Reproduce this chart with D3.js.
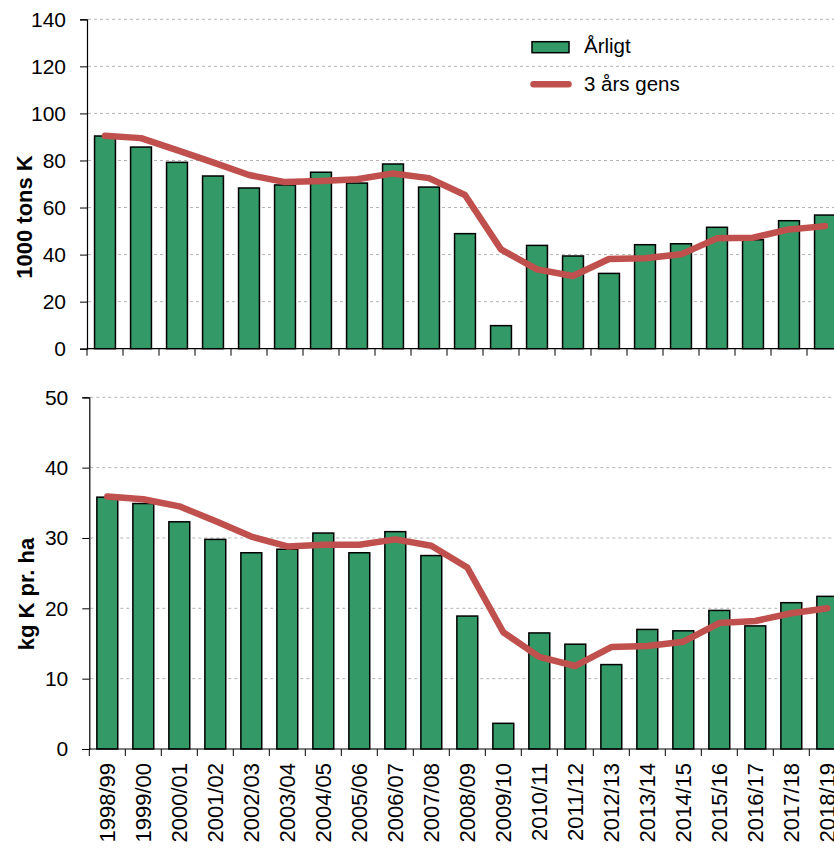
<!DOCTYPE html>
<html>
<head>
<meta charset="utf-8">
<script src="https://cdn.jsdelivr.net/npm/d3@7"></script>
<style>
  body { margin: 0; background: #fff; }
  svg { display: block; font-family: "Liberation Sans", Arial, sans-serif; }
</style>
</head>
<body>
<div id="chart"></div>
<script>
var seasons = ["1998/99", "1999/00", "2000/01", "2001/02", "2002/03", "2003/04", "2004/05",
    "2005/06", "2006/07", "2007/08", "2008/09", "2009/10", "2010/11", "2011/12",
    "2012/13", "2013/14", "2014/15", "2015/16", "2016/17", "2017/18", "2018/19"];

// 1000 tons K
var tonsAnnual = [90.4, 85.7, 79.2, 73.4, 68.3, 69.6, 75.0, 70.4, 78.5, 68.7, 48.9,
    9.8, 43.9, 39.4, 32.0, 44.2, 44.6, 51.6, 46.3, 54.4, 56.8];
var tonsAvg = [90.5, 89.5, 84.4, 79.2, 73.8, 70.8, 71.3, 72.0, 74.5, 72.5, 65.3,
    42.2, 33.7, 30.9, 38.1, 38.4, 40.1, 46.9, 47.2, 50.7, 52.1];

// kg K pr. ha
var kgAnnual = [35.8, 34.9, 32.3, 29.8, 27.9, 28.4, 30.7, 27.9, 30.9, 27.5, 18.9,
    3.65, 16.5, 14.9, 12.0, 17.0, 16.8, 19.7, 17.5, 20.8, 21.7];
var kgAvg = [35.9, 35.5, 34.5, 32.4, 30.2, 28.8, 29.05, 29.05, 29.8, 28.9, 25.8,
    16.6, 13.1, 11.8, 14.5, 14.65, 15.25, 17.9, 18.2, 19.3, 20.0];

var tonsTicks = [0, 20, 40, 60, 80, 100, 120, 140];
var kgTicks = [0, 10, 20, 30, 40, 50];

var legendLabels = ["Årligt", "3 års gens"];

var barColor = "#339966";
var lineColor = "#C0504D";

var svg = d3.select("#chart").append("svg")
    .attr("width", 834)
    .attr("height", 848);

function drawPanel(opts) {
    var xScale = d3.scaleBand()
        .domain(seasons)
        .range([opts.left, opts.left + 756])
        .paddingInner(0.42)
        .paddingOuter(0.21);

    var yScale = d3.scaleLinear()
        .domain([0, opts.max])
        .range([opts.bottom, opts.top]);

    var g = svg.append("g");

    // dashed grid lines
    g.append("g").selectAll("line")
        .data(opts.ticks.filter(function(d) { return d > 0; }))
        .join("line")
        .attr("x1", opts.left + 1)
        .attr("x2", 834)
        .attr("y1", function(d) { return yScale(d); })
        .attr("y2", function(d) { return yScale(d); })
        .attr("stroke", "#b4b4b4")
        .attr("stroke-width", 1)
        .attr("stroke-dasharray", "3,3");

    // bars
    g.append("g").selectAll("rect")
        .data(opts.annual)
        .join("rect")
        .attr("x", function(d, i) { return xScale(seasons[i]); })
        .attr("y", function(d) { return yScale(d); })
        .attr("width", xScale.bandwidth())
        .attr("height", function(d) { return yScale(0) - yScale(d); })
        .attr("fill", barColor)
        .attr("stroke", "#000")
        .attr("stroke-width", 1.5);

    // 3 year average
    g.append("path")
        .datum(opts.avg)
        .attr("fill", "none")
        .attr("stroke", lineColor)
        .attr("stroke-width", 6.5)
        .attr("stroke-linecap", "round")
        .attr("stroke-linejoin", "round")
        .attr("d", d3.line()
            .x(function(d, i) { return xScale(seasons[i]) + xScale.bandwidth() / 2; })
            .y(function(d) { return yScale(d); }));

    // Y axis
    var yAxis = g.append("g")
        .attr("transform", "translate(" + opts.left + ",0)")
        .call(d3.axisLeft(yScale).tickValues(opts.ticks).tickSize(7).tickPadding(14));
    yAxis.select(".domain").attr("stroke", "#000").attr("stroke-width", 1.2);
    yAxis.selectAll(".tick line").attr("stroke", "#000");
    yAxis.selectAll("text")
        .attr("font-size", "21px")
        .attr("font-family", "Liberation Sans, Arial, sans-serif")
        .attr("fill", "#000");

    // X axis: ticks at band boundaries
    var step = xScale.step();
    var xg = g.append("g");
    xg.append("line")
        .attr("x1", opts.left)
        .attr("x2", 834)
        .attr("y1", yScale(0))
        .attr("y2", yScale(0))
        .attr("stroke", "#000")
        .attr("stroke-width", 1.2);
    xg.selectAll(".xtick")
        .data(seasons)
        .join("line")
        .attr("class", "xtick")
        .attr("x1", function(d) { return xScale(d) - xScale.paddingOuter() * step; })
        .attr("x2", function(d) { return xScale(d) - xScale.paddingOuter() * step; })
        .attr("y1", yScale(0))
        .attr("y2", yScale(0) + 7)
        .attr("stroke", "#000");

    if (opts.showLabels) {
        xg.selectAll(".xlabel")
            .data(seasons)
            .join("text")
            .attr("class", "xlabel")
            .attr("transform", function(d) {
                return "translate(" + (xScale(d) + xScale.bandwidth() / 2 + 8) + "," + (yScale(0) + 14) + ") rotate(-90)";
            })
            .attr("text-anchor", "end")
            .attr("font-size", "22px")
            .attr("fill", "#000")
            .text(function(d) { return d; });
    }

    // Y label
    g.append("text")
        .attr("transform", "translate(" + opts.labelX + "," + opts.labelY + ") rotate(-90)")
        .attr("text-anchor", "middle")
        .attr("font-size", "22px")
        .attr("font-weight", "bold")
        .attr("fill", "#000")
        .text(opts.label);
}

drawPanel({
    left: 87, top: 19.3, bottom: 348.7, max: 140,
    ticks: tonsTicks, annual: tonsAnnual, avg: tonsAvg,
    label: "1000 tons K", labelX: 32, labelY: 217, showLabels: false
});

drawPanel({
    left: 89.3, top: 397.3, bottom: 749, max: 50,
    ticks: kgTicks, annual: kgAnnual, avg: kgAvg,
    label: "kg K pr. ha", labelX: 34, labelY: 594, showLabels: true
});

// legend
var legend = svg.append("g").attr("transform", "translate(532,0)");
legend.append("rect")
    .attr("x", 0)
    .attr("y", 41.7)
    .attr("width", 37)
    .attr("height", 11)
    .attr("fill", barColor)
    .attr("stroke", "#000")
    .attr("stroke-width", 1.5);
legend.append("line")
    .attr("x1", 1.5)
    .attr("x2", 36.5)
    .attr("y1", 84.3)
    .attr("y2", 84.3)
    .attr("stroke", lineColor)
    .attr("stroke-width", 6.5)
    .attr("stroke-linecap", "round");
legend.selectAll(".ltext")
    .data(legendLabels)
    .join("text")
    .attr("class", "ltext")
    .attr("x", 52)
    .attr("y", function(d, i) { return i === 0 ? 53.3 : 90.7; })
    .attr("font-size", "20.5px")
    .attr("fill", "#000")
    .text(function(d) { return d; });
</script>
</body>
</html>
